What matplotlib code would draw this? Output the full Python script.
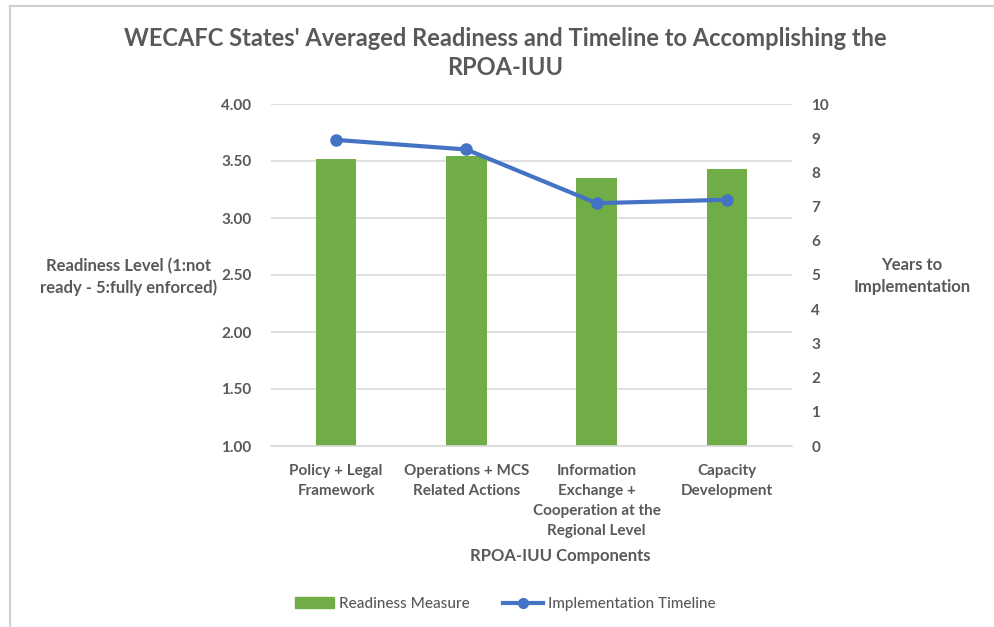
import numpy as np
import matplotlib.pyplot as plt
from matplotlib.lines import Line2D
from matplotlib.patches import Patch

plt.rcParams['font.family'] = ['Lato', 'DejaVu Sans']

categories = ['Policy + Legal\nFramework', 'Operations + MCS\nRelated Actions',
              'Information\nExchange +\nCooperation at the\nRegional Level', 'Capacity\nDevelopment']
readiness = [3.52, 3.54, 3.35, 3.43]
timeline = [8.95, 8.67, 7.10, 7.20]
left_ticks = [1.0, 1.5, 2.0, 2.5, 3.0, 3.5, 4.0]
right_ticks = list(range(0, 11))

grey = '#595959'
green = '#70ad47'
blue = '#4472c4'

fig = plt.figure(figsize=(9.95, 6.27), dpi=100)
ax = fig.add_axes([271/995, 1 - 446/627, 521/995, 342/627])
x = np.arange(len(categories))
ax.bar(x, readiness, width=0.31, color=green, zorder=2)
ax.set_ylim(1, 4)
ax.set_xlim(-0.5, len(categories) - 0.5)
ax.set_yticks(left_ticks)
ax.set_yticklabels(['%.2f' % v for v in left_ticks])
ax.grid(axis='y', color='#d9d9d9', lw=1.2, zorder=0)
for s in ['top', 'right', 'left']:
    ax.spines[s].set_visible(False)
ax.spines['bottom'].set_color('#d9d9d9')
ax.spines['bottom'].set_linewidth(1.2)
ax.tick_params(axis='y', length=0, pad=14, labelsize=11, labelcolor=grey)
ax.tick_params(axis='x', length=0, pad=13, labelsize=11, labelcolor=grey)
ax.set_xticks(x)
ax.set_xticklabels(categories, va='top', linespacing=1.55)
for t in ax.get_yticklabels() + ax.get_xticklabels():
    t.set_fontweight('bold')

ax2 = ax.twinx()
ax2.plot(x, timeline, color=blue, lw=3, marker='o', ms=8, zorder=3)
ax2.set_ylim(0, 10)
ax2.set_yticks(right_ticks)
for s in ax2.spines.values():
    s.set_visible(False)
ax2.tick_params(axis='y', length=0, pad=14, labelsize=11, labelcolor=grey)
for t in ax2.get_yticklabels():
    t.set_fontweight('bold')

fig.text(505/995, 1 - 53/627, "WECAFC States' Averaged Readiness and Timeline to Accomplishing the\nRPOA-IUU",
         ha='center', va='center', fontsize=17, fontweight='bold', color=grey, linespacing=1.35)
fig.text(129/995, 1 - 277/627, 'Readiness Level (1:not\nready - 5:fully enforced)', ha='center', va='center',
         fontsize=12, fontweight='bold', color=grey, linespacing=1.4)
fig.text(912/995, 1 - 276/627, 'Years to\nImplementation', ha='center', va='center',
         fontsize=12, fontweight='bold', color=grey, linespacing=1.4)
fig.text(560/995, 1 - 556/627, 'RPOA-IUU Components', ha='center', va='center',
         fontsize=12, fontweight='bold', color=grey)

handles = [Patch(color=green, label='Readiness Measure'),
           Line2D([0], [0], color=blue, lw=3, marker='o', ms=7, label='Implementation Timeline')]
fig.legend(handles=handles, loc='center', bbox_to_anchor=(505/995, 1 - 604/627), ncol=2, frameon=False,
           prop={'size': 11, 'weight': 'medium'}, labelcolor=grey, handlelength=2.6,
           handletextpad=0.3, columnspacing=2.2)

# outer frame of the chart box
fig.add_artist(Line2D([10/995, 1], [1 - 6/627, 1 - 6/627], color='#d0d0d0', lw=1.5, transform=fig.transFigure))
fig.add_artist(Line2D([10/995, 10/995], [0, 1 - 6/627], color='#d0d0d0', lw=1.5, transform=fig.transFigure))

fig.savefig('out.png', dpi=100, facecolor='white')
